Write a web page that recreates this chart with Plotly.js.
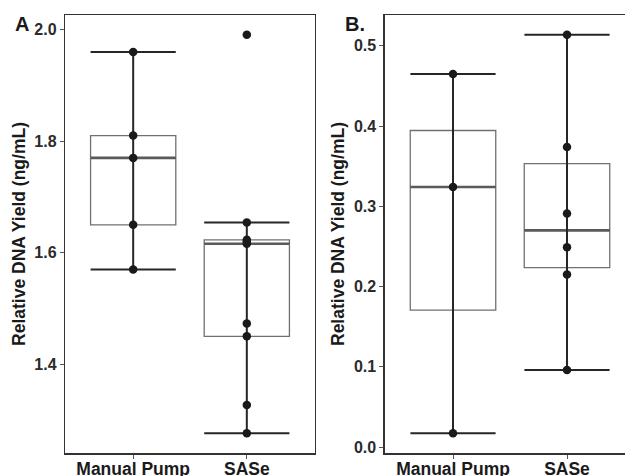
<!DOCTYPE html>
<html><head><meta charset="utf-8">
<script src="https://cdn.plot.ly/plotly-3.0.1.min.js"></script>
<style>html,body{margin:0;padding:0;overflow:hidden;background:#fff}#chart{width:640px;height:476px}</style>
</head><body><div id="chart"></div>
<script>
// ---- data ----
const groups = ['Manual Pump', 'SASe'];
const yieldA_manual = [1.96, 1.81, 1.77, 1.65, 1.57];
const yieldA_sase = [1.991, 1.654, 1.623, 1.620, 1.616, 1.473, 1.450, 1.327, 1.276];
const yieldB_manual = [0.465, 0.324, 0.017];
const yieldB_sase = [0.514, 0.374, 0.291, 0.249, 0.215, 0.096];
const yTicksA = [1.4, 1.6, 1.8, 2.0];
const yTicksB = [0.0, 0.1, 0.2, 0.3, 0.4, 0.5];
const panelLabels = ['A', 'B.'];
const yTitle = 'Relative DNA Yield (ng/mL)';

// ---- helpers ----
function quant(s, p) {
  const h = (s.length - 1) * p, lo = Math.floor(h), hi = Math.min(lo + 1, s.length - 1);
  return s[lo] + (h - lo) * (s[hi] - s[lo]);
}
function stats(v) {
  const s = v.slice().sort((a, b) => a - b);
  const q1 = quant(s, 0.25), med = quant(s, 0.5), q3 = quant(s, 0.75), iqr = q3 - q1;
  const inside = s.filter(x => x >= q1 - 1.5 * iqr && x <= q3 + 1.5 * iqr);
  return {q1, med, q3, lo: inside[0], hi: inside[inside.length - 1]};
}
function padRange(arrs) {
  const all = [].concat(...arrs);
  const mn = Math.min(...all), mx = Math.max(...all), d = mx - mn;
  return [mn - 0.05 * d, mx + 0.05 * d];
}

const FONT = 'Liberation Sans, Arial, Helvetica, sans-serif';
const W = 640, H = 476;
const BOXW = 0.75;
const CAPPX = 42.6;

function panelTraces(dataArrs, xa, ya) {
  const st = dataArrs.map(stats);
  const pos = dataArrs.map((_, i) => i + 1);
  const traces = [];
  traces.push({
    type: 'scatter', mode: 'markers', x: pos, y: st.map(s => s.hi),
    marker: {opacity: 0, size: 1}, hoverinfo: 'skip', showlegend: false,
    error_y: {type: 'data', symmetric: false, array: st.map(() => 0),
      arrayminus: st.map(s => s.hi - s.lo), color: '#262626', thickness: 2, width: CAPPX},
    xaxis: xa, yaxis: ya
  });
  traces.push({
    type: 'box', x: pos, q1: st.map(s => s.q1), median: st.map(s => s.med), q3: st.map(s => s.q3),
    lowerfence: st.map(s => s.q1), upperfence: st.map(s => s.q3),
    width: BOXW, fillcolor: 'rgba(0,0,0,0)', line: {color: '#707070', width: 1.3},
    boxpoints: false, showlegend: false, hoverinfo: 'skip', xaxis: xa, yaxis: ya
  });
  traces.push({
    type: 'box', x: pos, q1: st.map(s => s.med), median: st.map(s => s.med), q3: st.map(s => s.med),
    lowerfence: st.map(s => s.med), upperfence: st.map(s => s.med),
    width: BOXW, fillcolor: 'rgba(0,0,0,0)', line: {color: '#5a5a5a', width: 2.6},
    boxpoints: false, showlegend: false, hoverinfo: 'skip', xaxis: xa, yaxis: ya
  });
  const px = [], py = [];
  dataArrs.forEach((arr, i) => arr.forEach(v => { px.push(i + 1); py.push(v); }));
  traces.push({
    type: 'scatter', mode: 'markers', x: px, y: py,
    marker: {color: '#1a1a1a', size: 8.5}, showlegend: false, hoverinfo: 'skip',
    xaxis: xa, yaxis: ya
  });
  return traces;
}

const data = [].concat(
  panelTraces([yieldA_manual, yieldA_sase], 'x', 'y'),
  panelTraces([yieldB_manual, yieldB_sase], 'x2', 'y2')
);

const yDom = [1 - 453.3 / H, 1 - 14.7 / H];
function xAxis(dom) {
  return {
    domain: dom, range: [0.4, 2.6], tickvals: [1, 2], ticktext: groups,
    showline: true, mirror: true, linecolor: '#333', linewidth: 1.2,
    ticks: 'outside', ticklen: 4, tickwidth: 1, tickcolor: '#555',
    ticklabelstandoff: -5,
    showgrid: false, zeroline: false, fixedrange: true,
    tickfont: {family: FONT, size: 17.5, color: '#1a1a1a', weight: 'bold'}
  };
}
function yAxis(dom, anchor, range, tv) {
  return {
    domain: dom, anchor: anchor, range: range, tickvals: tv, tickformat: '.1f',
    showline: true, mirror: true, linecolor: '#333', linewidth: 1.2,
    ticks: 'outside', ticklen: 4, tickwidth: 1, tickcolor: '#555',
    showgrid: false, zeroline: false, fixedrange: true,
    tickfont: {family: FONT, size: 16, color: '#2b2b2b', weight: 'bold'},
    title: {text: yTitle, standoff: 4, font: {family: FONT, size: 17.5, color: '#1a1a1a', weight: 'bold'}}
  };
}

const layout = {
  width: W, height: H, margin: {l: 0, r: 0, t: 0, b: 0},
  paper_bgcolor: '#fff', plot_bgcolor: '#fff', showlegend: false,
  boxmode: 'overlay',
  xaxis: Object.assign(xAxis([65 / W, 315 / W]), {anchor: 'y'}),
  yaxis: yAxis(yDom, 'x', padRange([yieldA_manual, yieldA_sase]), yTicksA),
  xaxis2: Object.assign(xAxis([384.6 / W, 635.4 / W]), {anchor: 'y2'}),
  yaxis2: yAxis(yDom, 'x2', padRange([yieldB_manual, yieldB_sase]), yTicksB),
  annotations: [
    {text: panelLabels[0], xref: 'paper', yref: 'paper', x: 13 / W, y: 1 - 11 / H,
     xanchor: 'left', yanchor: 'top', showarrow: false,
     font: {family: FONT, size: 20, color: '#1a1a1a', weight: 'bold'}},
    {text: panelLabels[1], xref: 'paper', yref: 'paper', x: 343 / W, y: 1 - 11 / H,
     xanchor: 'left', yanchor: 'top', showarrow: false,
     font: {family: FONT, size: 20, color: '#1a1a1a', weight: 'bold'}}
  ]
};

Plotly.newPlot('chart', data, layout, {staticPlot: true, displayModeBar: false});
</script>
</body></html>
